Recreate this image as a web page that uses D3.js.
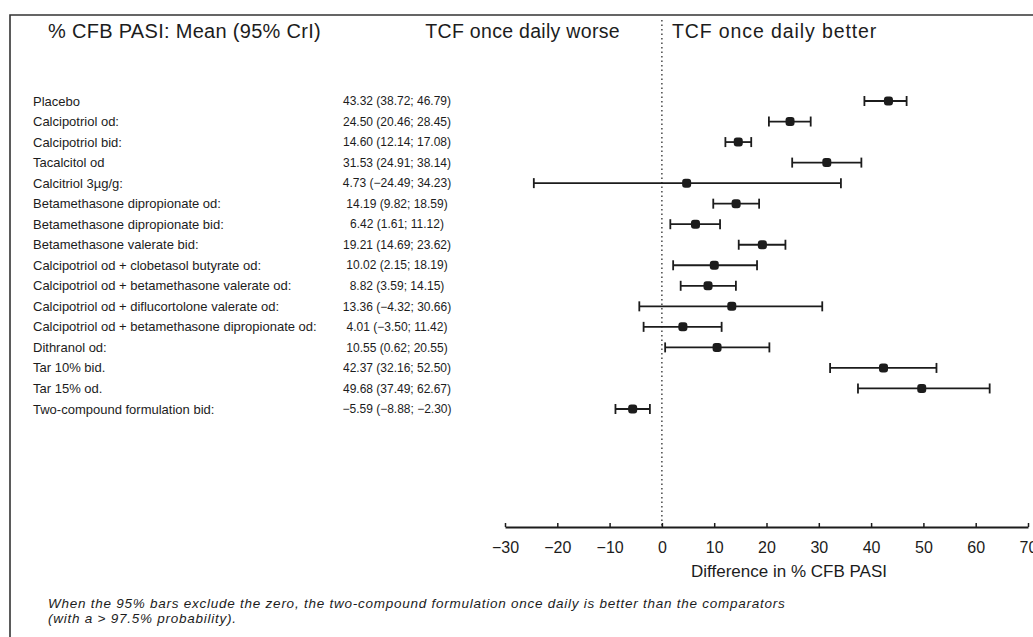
<!DOCTYPE html>
<html>
<head>
	<meta charset="utf-8">
	<title>% CFB PASI forest plot</title>
	<script src="https://cdn.jsdelivr.net/npm/d3@7"></script>
	<style>
		body {
			margin: 0;
			background: #fff;
			font-family: "Liberation Sans", Arial, Helvetica, sans-serif;
		}
		svg text { fill: #1c1c1c; }
	</style>
</head>
<body>
	<div id="chart"></div>
	<script>

		// data

		const labels = [
			"Placebo",
			"Calcipotriol od:",
			"Calcipotriol bid:",
			"Tacalcitol od",
			"Calcitriol 3µg/g:",
			"Betamethasone dipropionate od:",
			"Betamethasone dipropionate bid:",
			"Betamethasone valerate bid:",
			"Calcipotriol od + clobetasol butyrate od:",
			"Calcipotriol od + betamethasone valerate od:",
			"Calcipotriol od + diflucortolone valerate od:",
			"Calcipotriol od + betamethasone dipropionate od:",
			"Dithranol od:",
			"Tar 10% bid.",
			"Tar 15% od.",
			"Two-compound formulation bid:"
		];
		const means = [43.32, 24.50, 14.60, 31.53, 4.73, 14.19, 6.42, 19.21, 10.02, 8.82, 13.36, 4.01, 10.55, 42.37, 49.68, -5.59];
		const lower = [38.72, 20.46, 12.14, 24.91, -24.49, 9.82, 1.61, 14.69, 2.15, 3.59, -4.32, -3.50, 0.62, 32.16, 37.49, -8.88];
		const upper = [46.79, 28.45, 17.08, 38.14, 34.23, 18.59, 11.12, 23.62, 18.19, 14.15, 30.66, 11.42, 20.55, 52.50, 62.67, -2.30];

		const xTicks = [-30, -20, -10, 0, 10, 20, 30, 40, 50, 60, 70];

		const heading     = "% CFB PASI: Mean (95% CrI)";
		const worseLabel  = "TCF once daily worse";
		const betterLabel = "TCF once daily better";
		const xLabel      = "Difference in % CFB PASI";
		const footnote    = [
			"When the 95% bars exclude the zero, the two-compound formulation once daily is better than the comparators",
			"(with a > 97.5% probability)."
		];

		// layout

		const width  = 1033;
		const height = 637;
		const ink    = "#1c1c1c";

		const rows = labels.map((label, i) => ({ label, mean: means[i], lo: lower[i], hi: upper[i] }));

		const svg = d3.select("#chart")
			.append("svg")
			.attr("width", width)
			.attr("height", height)
			.attr("viewBox", [0, 0, width, height]);

		const x = d3.scaleLinear().domain([-30, 70]).range([505, 1028]);
		const y = d3.scalePoint().domain(labels).range([101, 409]);
		const axisY = 527;

		const fmt = d3.format(".2f");

		// frame of the scanned figure (top and left edges)
		svg.append("path")
			.attr("d", `M10,${height}V15H${width}`)
			.attr("fill", "none")
			.attr("stroke", "#333")
			.attr("stroke-width", 1.6);

		// headings
		svg.append("text")
			.attr("x", 48).attr("y", 38)
			.style("font-size", "20px")
			.style("letter-spacing", "0.3px")
			.text(heading);

		svg.append("text")
			.attr("x", x(0) - 42).attr("y", 38)
			.attr("text-anchor", "end")
			.style("font-size", "19.5px")
			.style("letter-spacing", "0.3px")
			.text(worseLabel);

		svg.append("text")
			.attr("x", x(0) + 10).attr("y", 38)
			.style("font-size", "19.5px")
			.style("letter-spacing", "0.9px")
			.text(betterLabel);

		// zero line
		svg.append("line")
			.attr("x1", x(0)).attr("x2", x(0))
			.attr("y1", 20).attr("y2", axisY)
			.attr("stroke", ink)
			.attr("stroke-width", 1.2)
			.attr("stroke-dasharray", "1.5,3");

		// row labels and values
		const row = svg.append("g")
			.selectAll("g")
			.data(rows)
			.join("g")
			.attr("transform", d => `translate(0,${y(d.label)})`);

		row.append("text")
			.attr("x", 33)
			.attr("dy", "0.35em")
			.style("font-size", "13px")
			.text(d => d.label);

		row.append("text")
			.attr("x", 397)
			.attr("dy", "0.35em")
			.attr("text-anchor", "middle")
			.style("font-size", "12px")
			.text(d => `${fmt(d.mean)} (${fmt(d.lo)}; ${fmt(d.hi)})`);

		// intervals
		row.append("line")
			.attr("x1", d => x(d.lo)).attr("x2", d => x(d.hi))
			.attr("stroke", ink)
			.attr("stroke-width", 1.8);

		row.selectAll(".cap")
			.data(d => [d.lo, d.hi])
			.join("line")
			.attr("class", "cap")
			.attr("x1", v => x(v)).attr("x2", v => x(v))
			.attr("y1", -5).attr("y2", 5)
			.attr("stroke", ink)
			.attr("stroke-width", 1.8);

		row.append("rect")
			.attr("x", d => x(d.mean) - 4.5)
			.attr("y", -4.5)
			.attr("width", 9)
			.attr("height", 9)
			.attr("rx", 3)
			.attr("fill", ink);

		// x axis
		svg.append("g")
			.attr("transform", `translate(0,${axisY})`)
			.call(d3.axisBottom(x).tickValues(xTicks).tickSize(-4).tickSizeOuter(0).tickPadding(8))
			.call(g => g.select(".domain").attr("stroke", ink).attr("stroke-width", 2))
			.call(g => g.selectAll(".tick line").attr("stroke", ink).attr("stroke-width", 1.5))
			.call(g => g.selectAll(".tick text")
				.attr("fill", ink)
				.attr("dy", "1.1em")
				.style("font-family", "'Liberation Sans', Arial, sans-serif")
				.style("font-size", "16px"));

		svg.append("text")
			.attr("x", 789)
			.attr("y", axisY + 50)
			.attr("text-anchor", "middle")
			.style("font-size", "17px")
			.text(xLabel);

		// footnote
		svg.append("g")
			.selectAll("text")
			.data(footnote)
			.join("text")
			.attr("x", 48)
			.attr("y", (d, i) => 608 + i * 15)
			.style("font-size", "13.5px")
			.style("font-style", "italic")
			.style("letter-spacing", "0.75px")
			.text(d => d);

	</script>
</body>
</html>
